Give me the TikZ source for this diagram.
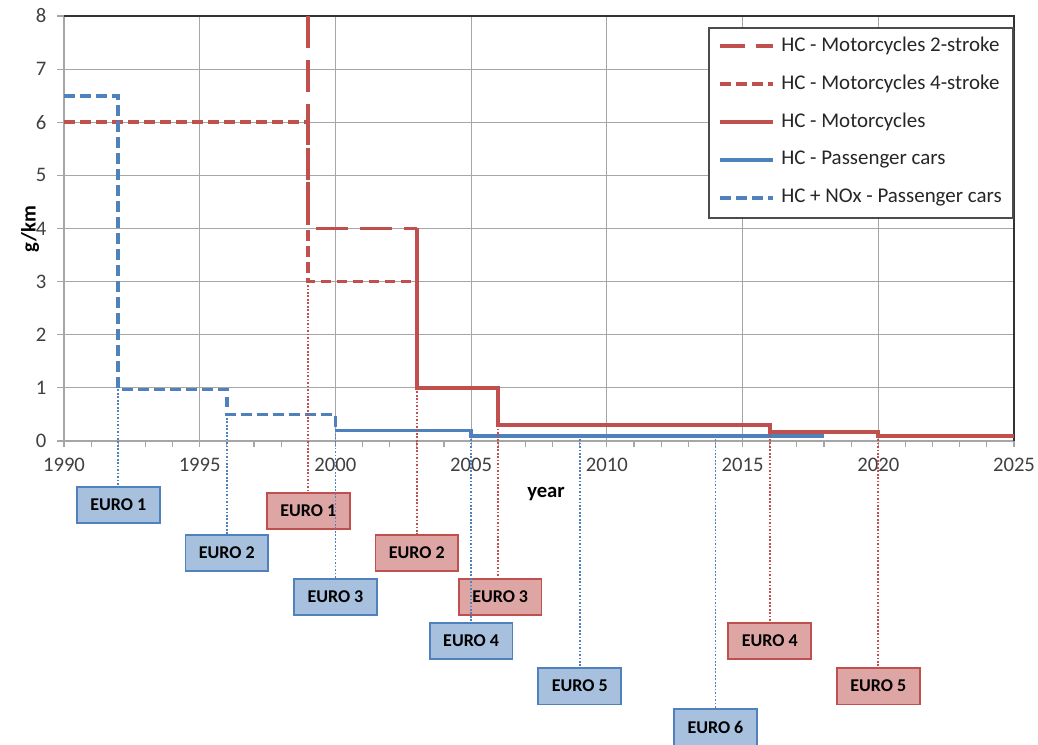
\documentclass[tikz,border=0pt]{standalone}
\usepackage{fontspec}
\setmainfont{Carlito}
\usepackage{tikz}
\usetikzlibrary{positioning}

\definecolor{hcred}{HTML}{C0504D}
\definecolor{hcblue}{HTML}{4F81BD}
\definecolor{redfill}{HTML}{DDA5A4}
\definecolor{bluefill}{HTML}{A7C0DE}
\definecolor{gridgray}{HTML}{A6A6A6}
\definecolor{labgray}{HTML}{404040}

\tikzset{
  gridline/.style={draw=gridgray, line width=0.8pt},
  motosolid/.style={draw=hcred, line width=2.8pt},
  mototwo/.style={motosolid, dash pattern=on 24pt off 9pt},
  motofour/.style={motosolid, dash pattern=on 8pt off 4pt},
  carsolid/.style={draw=hcblue, line width=2.8pt},
  carnox/.style={carsolid, dash pattern=on 8pt off 4pt},
  euroblue/.style={draw=hcblue, fill=bluefill, line width=1.4pt, minimum width=62pt,
    minimum height=27.5pt, inner sep=0pt, font=\bfseries\fontsize{13.5}{15}\selectfont},
  eurored/.style={euroblue, draw=hcred, fill=redfill},
  bluelink/.style={draw=hcblue, line width=1.3pt, dash pattern=on 1.3pt off 1.3pt},
  redlink/.style={draw=hcred, line width=1.3pt, dash pattern=on 1.3pt off 1.3pt},
  ticklab/.style={text=labgray, inner sep=0pt, font=\fontsize{15.5}{18}\selectfont},
  legtext/.style={anchor=west, inner sep=0pt, text=black!85, font=\fontsize{15.7}{18}\selectfont},
  axtitle/.style={font=\bfseries\fontsize{15.5}{18}\selectfont},
}

\begin{document}
\begin{tikzpicture}[x=0.75pt, y=-0.75pt]
\useasboundingbox (0,0) rectangle (1038,745);

% chart, in years after 1990 and g/km
\begin{scope}[shift={(64,441)}, x={(20.357pt,0pt)}, y={(0pt,39.844pt)}]
  \foreach \v in {1,...,7}
    \draw[gridline] (0,\v) -- (35,\v);
  \foreach \i in {5,10,...,30}
    \draw[gridline] (\i,0) -- (\i,8);
  \draw[gridline] (0,0) -- (35,0);
  \draw[gridline] (0,0) -- (0,8);
  \draw[black!80, line width=0.8pt] (0,8) -- (35,8) -- (35,0);
  \foreach \i in {0,...,35}
    \draw[gridline] (\i,0) -- ++(0pt,-4.5pt);
  \foreach \v in {0,...,8} {
    \draw[gridline] (0,\v) -- ++(-5pt,0pt);
    \node[ticklab, anchor=east] (yt\v) at ([xshift=-13pt]0,\v) {\v};
  }
  \foreach \i in {0,1,...,7}
    \node[ticklab] (xt\i) at ([yshift=-18pt]5*\i,0) {\pgfmathparse{int(1990+5*\i)}\pgfmathresult};

  % limit values
  \draw[motosolid] (13,4) -- (13,1) -- (16,1) -- (16,0.3) -- (26,0.3) -- (26,0.17)
    -- (30,0.17) -- (30,0.1) -- (35,0.1);
  \draw[mototwo] (9,8) -- (9,4) -- (13,4);
  \draw[motofour] (0,6) -- (9,6) -- (9,3) -- (13,3);
  \draw[carnox] (0,6.5) -- (2,6.5) -- (2,0.97) -- (6,0.97) -- (6,0.5) -- (10,0.5) -- (10,0.2);
  \draw[carsolid] (10,0.2) -- (15,0.2) -- (15,0.1) -- (28,0.1);

  % where each stage starts
  \coordinate (cb1) at (2,0.97);
  \coordinate (cb2) at (6,0.5);
  \coordinate (cb3) at (10,0.2);
  \coordinate (cb4) at (15,0.1);
  \coordinate (cb5) at (19,0.1);
  \coordinate (cb6) at (24,0.1);
  \coordinate (cr1) at (9,3);
  \coordinate (cr2) at (13,1);
  \coordinate (cr3) at (16,0.3);
  \coordinate (cr4) at (26,0.17);
  \coordinate (cr5) at (30,0.1);

  % stage boxes
  \node[euroblue] (eb1) at (2,-1.205) {EURO 1};
  \node[euroblue] (eb2) at (6,-2.109) {EURO 2};
  \node[euroblue] (eb3) at (10,-2.938) {EURO 3};
  \node[euroblue] (eb4) at (15,-3.766) {EURO 4};
  \node[euroblue] (eb5) at (19,-4.614) {EURO 5};
  \node[euroblue] (eb6) at (24,-5.386) {EURO 6};
  \node[eurored] (er1) at (9,-1.318) {EURO 1};
  \node[eurored] (er2) at (13,-2.109) {EURO 2};
  \node[eurored] (er3) at (16.07,-2.938) {EURO 3};
  \node[eurored] (er4) at (26,-3.766) {EURO 4};
  \node[eurored] (er5) at (30,-4.614) {EURO 5};

  \draw[redlink] (cr1) -- (er1.north);
  \draw[redlink] (cr2) -- (er2.north);
  \draw[redlink] (cr3) -- (cr3 |- er3.north);
  \draw[redlink] (cr4) -- (er4.north);
  \draw[redlink] (cr5) -- (er5.north);
  \draw[bluelink] (cb1) -- (eb1.north);
  \draw[bluelink] (cb2) -- (eb2.north);
  \draw[bluelink] (cb3) -- (eb3.north);
  \draw[bluelink] (cb4) -- (eb4.north);
  \draw[bluelink] (cb5) -- (eb5.north);
  \draw[bluelink] (cb6) -- (eb6.north);
\end{scope}

% axis titles
\node[axtitle, rotate=90] (ytitle) at (30,229) {g/km};
\node[axtitle] (xtitle) at (546,494) {year};

% legend
\draw[black!70, fill=white, line width=0.8pt] (709,28) rectangle (1013,218);
\node[legtext] (l1) at (781,46) {HC - Motorcycles 2-stroke};
\node[legtext] (l2) at (781,84) {HC - Motorcycles 4-stroke};
\node[legtext] (l3) at (781,122) {HC - Motorcycles};
\node[legtext] (l4) at (781,160) {HC - Passenger cars};
\node[legtext] (l5) at (781,198) {HC + NOx - Passenger cars};
\draw[motosolid] (720,46) -- (745,46);
\draw[motosolid] (756,46) -- (773,46);
\draw[motofour] (720,84) -- (773,84);
\draw[motosolid] (720,122) -- (773,122);
\draw[carsolid] (720,160) -- (773,160);
\draw[carnox] (720,198) -- (773,198);

\end{tikzpicture}
\end{document}
